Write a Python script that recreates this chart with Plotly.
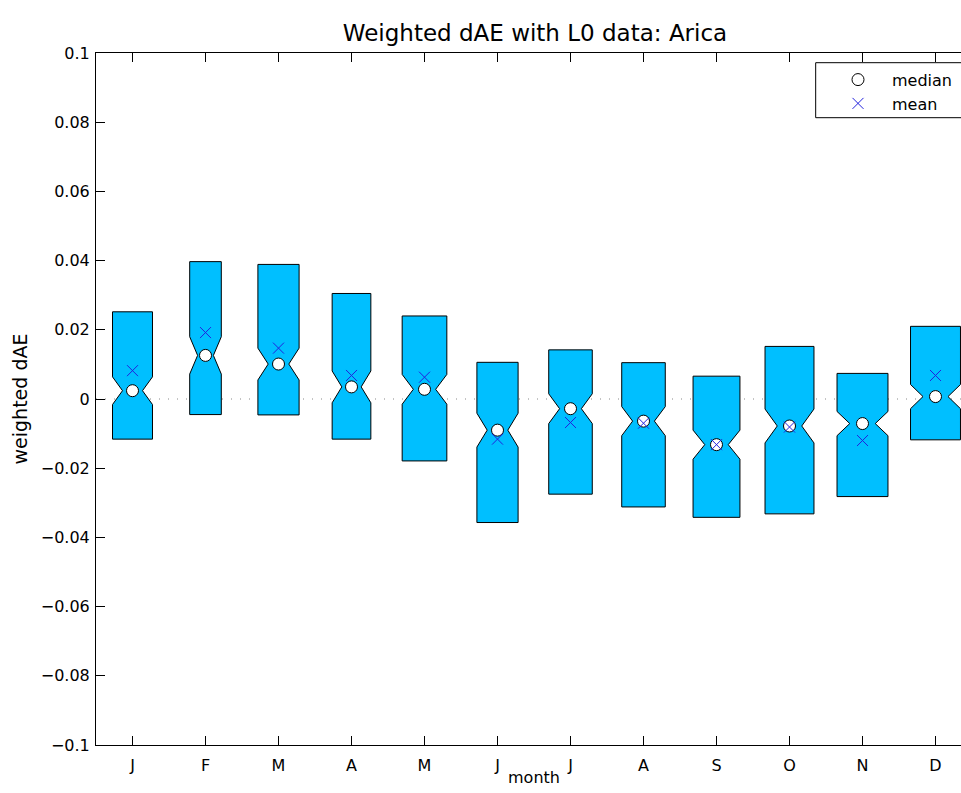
import numpy as np
import plotly.graph_objects as go

months = ["J", "F", "M", "A", "M", "J", "J", "A", "S", "O", "N", "D"]
q1 = [-0.0116, -0.0045, -0.0046, -0.0116, -0.0179, -0.0357, -0.0275, -0.0312, -0.0342, -0.0332, -0.0282, -0.0118]
q3 = [0.0252, 0.0397, 0.0389, 0.0305, 0.0240, 0.0106, 0.0142, 0.0105, 0.0066, 0.0152, 0.0074, 0.0210]
median = [0.0024, 0.0126, 0.0101, 0.0035, 0.0028, -0.0090, -0.0028, -0.0064, -0.0132, -0.0078, -0.0071, 0.0007]
notch = [0.0040, 0.0054, 0.0046, 0.0046, 0.0043, 0.0049, 0.0043, 0.0042, 0.0042, 0.0049, 0.0035, 0.0035]
mean = [0.0082, 0.0192, 0.0147, 0.0068, 0.0063, -0.0116, -0.0068, -0.0070, -0.0132, -0.0081, -0.0120, 0.0068]
counts = [16, 10, 17, 15, 20, 17, 19, 19, 22, 24, 26, 25]
yticks = [-0.1, -0.08, -0.06, -0.04, -0.02, 0, 0.02, 0.04, 0.06, 0.08, 0.1]

FONT = "DejaVu Sans, Liberation Sans, Arial, sans-serif"
MAXW = 0.349

fig = go.Figure()
xs = np.arange(1, len(months) + 1)
nmax = max(counts)
for i, x in enumerate(xs):
    w = MAXW * np.sqrt(counts[i] / nmax)
    lo, hi, m, n = q1[i], q3[i], median[i], notch[i]
    px = [x - w, x - w, x - w / 2, x - w, x - w, x + w, x + w, x + w / 2, x + w, x + w, x - w]
    py = [lo, m - n, m, m + n, hi, hi, m + n, m, m - n, lo, lo]
    fig.add_trace(go.Scatter(x=px, y=py, mode="lines", fill="toself",
                             fillcolor="#00BFFF", line=dict(color="black", width=1),
                             showlegend=False, hoverinfo="skip"))

fig.add_trace(go.Scatter(x=xs, y=median, mode="markers", name="median",
                         marker=dict(symbol="circle", size=12, color="white",
                                     line=dict(color="black", width=1))))
fig.add_trace(go.Scatter(x=xs, y=mean, mode="markers", name="mean",
                         marker=dict(symbol="x-thin", size=11, color="#2222dd",
                                     line=dict(color="#2222dd", width=1))))

fig.add_shape(type="line", xref="paper", x0=0, x1=1, yref="y", y0=0, y1=0,
              line=dict(color="#888888", width=1, dash="1px,8px"), layer="below")

# legend frame
fig.add_shape(type="rect", xref="paper", yref="paper",
              x0=0.832, x1=1.1, y0=0.9065, y1=0.986,
              line=dict(color="black", width=1), fillcolor="white", layer="above")

# x-axis title placed as in the reference
fig.add_annotation(text="month", xref="paper", yref="paper",
                   x=(534 - 96) / 865, y=(745 - 766) / 692,
                   xanchor="center", yanchor="top", showarrow=False,
                   font=dict(size=16))

fig.update_layout(
    width=961, height=793,
    margin=dict(l=96, r=0, t=53, b=48),
    paper_bgcolor="white", plot_bgcolor="white",
    font=dict(family=FONT, size=16, color="black"),
    title=dict(text="Weighted dAE with L0 data: Arica", font=dict(size=23),
               xref="container", x=535 / 961, xanchor="center",
               yref="container", y=1 - 33 / 793, yanchor="middle"),
    xaxis=dict(range=[0.5, 0.5 + 865 / 73], tickvals=list(xs), ticktext=months,
               ticks="inside", ticklen=9, tickcolor="black", showline=True,
               linecolor="black", linewidth=1, mirror="ticks", showgrid=False,
               zeroline=False, ticklabelstandoff=6),
    yaxis=dict(range=[-0.1, 0.1], tickvals=yticks,
               ticktext=[("\u2212" + f"{abs(v):g}") if v < 0 else f"{v:g}" for v in yticks],
               ticks="inside", ticklen=9, tickcolor="black", showline=True,
               linecolor="black", linewidth=1, showgrid=False, zeroline=False,
               ticklabelstandoff=2,
               title=dict(text="weighted dAE", standoff=8)),
    legend=dict(x=(824 - 96) / 865, xanchor="left", y=0.986, yanchor="top",
                bgcolor="rgba(0,0,0,0)", borderwidth=0, itemwidth=58,
                font=dict(size=16)),
)

fig.write_html("out.html")
